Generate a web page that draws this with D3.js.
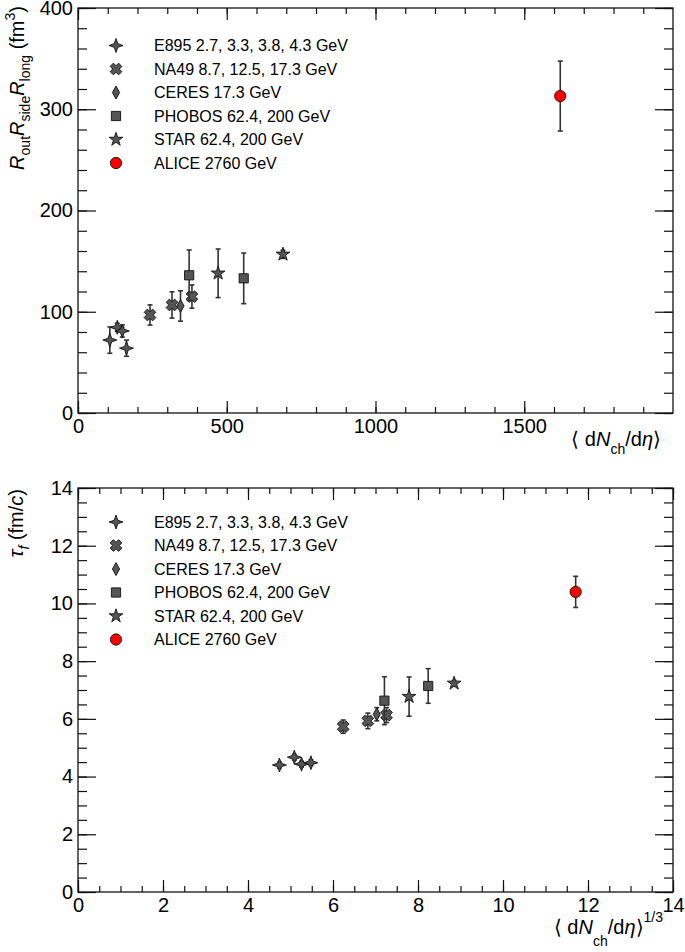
<!DOCTYPE html>
<html><head><meta charset="utf-8">
<script src="https://cdn.jsdelivr.net/npm/d3@7"></script>
<style>body{margin:0;background:#fff}svg{display:block;font-family:"Liberation Sans",Arial,Helvetica,sans-serif}</style>
</head><body><svg id="c" width="685" height="952"></svg>
<script>
// ---------- data ----------
const legendLabels = ["E895 2.7, 3.3, 3.8, 4.3 GeV","NA49 8.7, 12.5, 17.3 GeV","CERES 17.3 GeV","PHOBOS 62.4, 200 GeV","STAR 62.4, 200 GeV","ALICE 2760 GeV"];
const markerShapes = ["fourStar","xCross","diamond","square","star","circle"];

const e895Mult = [107, 132, 149, 163];
const e895Volume = [72, 84.6, 81, 64];
const e895VolumeErr = [13, 4, 6, 8];
const e895MultCbrt = [4.74, 5.09, 5.26, 5.48];
const e895Tau = [4.40, 4.67, 4.43, 4.48];
const e895TauErr = [0.1, 0.1, 0.1, 0.1];

const na49Mult = [242, 316, 383];
const na49Volume = [96.8, 106.7, 115];
const na49VolumeErr = [10, 13, 11.5];
const na49MultCbrt = [6.24, 6.82, 7.26];
const na49Tau = [5.73, 5.93, 6.13];
const na49TauErr = [0.23, 0.27, 0.26];

const ceresMult = [344.5];
const ceresVolume = [105.7];
const ceresVolumeErr = [15];
const ceresMultCbrt = [7.03];
const ceresTau = [6.16];
const ceresTauErr = [0.23];

const phobosMult = [373.6, 557];
const phobosVolume = [136, 133];
const phobosVolumeErr = [25, 25];
const phobosMultCbrt = [7.21, 8.24];
const phobosTau = [6.63, 7.14];
const phobosTauErr = [0.83, 0.6];

const starMult = [471, 689];
const starVolume = [138, 156.7];
const starVolumeErr = [24, 4];
const starMultCbrt = [7.79, 8.85];
const starTau = [6.77, 7.23];
const starTauErr = [0.68, 0.1];

const aliceMult = [1621];
const aliceVolume = [313];
const aliceVolumeErr = [34.5];
const aliceMultCbrt = [11.71];
const aliceTau = [10.40];
const aliceTauErr = [0.54];

const topXTicks = [0, 500, 1000, 1500];
const topXMinor = [0,100,200,300,400,500,600,700,800,900,1000,1100,1200,1300,1400,1500,1600,1700,1800,1900];
const topYTicks = [0, 100, 200, 300, 400];
const topYMinor = [0,20,40,60,80,100,120,140,160,180,200,220,240,260,280,300,320,340,360,380,400];
const botXTicks = [0, 2, 4, 6, 8, 10, 12, 14];
const botXMinor = [0,0.5,1,1.5,2,2.5,3,3.5,4,4.5,5,5.5,6,6.5,7,7.5,8,8.5,9,9.5,10,10.5,11,11.5,12,12.5,13,13.5,14];
const botYTicks = [0, 2, 4, 6, 8, 10, 12, 14];
const botYMinor = botXMinor;

const series = [
  {x1: e895Mult, v: e895Volume, ve: e895VolumeErr, x2: e895MultCbrt, t: e895Tau, te: e895TauErr},
  {x1: na49Mult, v: na49Volume, ve: na49VolumeErr, x2: na49MultCbrt, t: na49Tau, te: na49TauErr},
  {x1: ceresMult, v: ceresVolume, ve: ceresVolumeErr, x2: ceresMultCbrt, t: ceresTau, te: ceresTauErr},
  {x1: phobosMult, v: phobosVolume, ve: phobosVolumeErr, x2: phobosMultCbrt, t: phobosTau, te: phobosTauErr},
  {x1: starMult, v: starVolume, ve: starVolumeErr, x2: starMultCbrt, t: starTau, te: starTauErr},
  {x1: aliceMult, v: aliceVolume, ve: aliceVolumeErr, x2: aliceMultCbrt, t: aliceTau, te: aliceTauErr}
];

// ---------- drawing ----------
const svg = d3.select("#c");
const L = 78, R = 673;

function markerPath(shape){
  if (shape === "fourStar") {
    const o = 7, i = 1.8;
    return `M0,${-o}L${i},${-i}L${o},0L${i},${i}L0,${o}L${-i},${i}L${-o},0L${-i},${-i}Z`;
  }
  if (shape === "xCross") {
    const r = 6, a = 2.3;
    const pts = [[-a,-r],[a,-r],[a,-a],[r,-a],[r,a],[a,a],[a,r],[-a,r],[-a,a],[-r,a],[-r,-a],[-a,-a]];
    const c = Math.SQRT1_2;
    return "M" + pts.map(([x,y]) => [(x - y) * c, (x + y) * c].map(v => v.toFixed(2)).join(",")).join("L") + "Z";
  }
  if (shape === "diamond") return "M0,-6.5L3.6,0L0,6.5L-3.6,0Z";
  if (shape === "square") return "M-4.6,-4.6H4.6V4.6H-4.6Z";
  if (shape === "star") return d3.symbol(d3.symbolStar, 58)();
  return d3.symbol(d3.symbolCircle, 100)();
}
function markerFill(shape){ return shape === "circle" ? "#ff0000" : "#555"; }

function richText(g, parts, size){
  const t = g.append("text").attr("font-size", size);
  let prev = 0;
  parts.forEach(p => {
    const shift = p.shift || 0;
    const ts = t.append("tspan").text(p.t).attr("dy", shift - prev);
    if (p.it) ts.attr("font-style", "italic");
    if (p.fs) ts.attr("font-size", p.fs);
    prev = shift;
  });
  return t;
}

function panel(cfg){
  const x = d3.scaleLinear().domain(cfg.xDomain).range([L, R]);
  const y = d3.scaleLinear().domain(cfg.yDomain).range([cfg.bottom, cfg.top]);
  const g = svg.append("g");

  const fixAxis = a => { a.select(".domain").remove(); a.selectAll("line").attr("stroke", "#111").attr("stroke-width", 1.2); a.attr("font-family", null); };

  const xb = g.append("g").attr("transform", `translate(0,${cfg.bottom})`)
    .call(d3.axisBottom(x).tickValues(cfg.xTicks).tickSize(-12).tickPadding(6).tickFormat(d3.format("d")));
  fixAxis(xb); xb.selectAll("text").attr("font-size", 20).attr("fill", "#000");
  const xbm = g.append("g").attr("transform", `translate(0,${cfg.bottom})`)
    .call(d3.axisBottom(x).tickValues(cfg.xMinor).tickSize(-6).tickFormat(""));
  fixAxis(xbm);
  const xt = g.append("g").attr("transform", `translate(0,${cfg.top})`)
    .call(d3.axisTop(x).tickValues(cfg.xTicks).tickSize(-12).tickFormat(""));
  fixAxis(xt);
  const xtm = g.append("g").attr("transform", `translate(0,${cfg.top})`)
    .call(d3.axisTop(x).tickValues(cfg.xMinor).tickSize(-6).tickFormat(""));
  fixAxis(xtm);

  const yl = g.append("g").attr("transform", `translate(${L},0)`)
    .call(d3.axisLeft(y).tickValues(cfg.yTicks).tickSize(-18).tickPadding(5).tickFormat(d3.format("d")));
  fixAxis(yl); yl.selectAll("text").attr("font-size", 20).attr("fill", "#000");
  const ylm = g.append("g").attr("transform", `translate(${L},0)`)
    .call(d3.axisLeft(y).tickValues(cfg.yMinor).tickSize(-9).tickFormat(""));
  fixAxis(ylm);
  const yr = g.append("g").attr("transform", `translate(${R},0)`)
    .call(d3.axisRight(y).tickValues(cfg.yTicks).tickSize(-18).tickFormat(""));
  fixAxis(yr);
  const yrm = g.append("g").attr("transform", `translate(${R},0)`)
    .call(d3.axisRight(y).tickValues(cfg.yMinor).tickSize(-9).tickFormat(""));
  fixAxis(yrm);

  g.append("rect").attr("x", L).attr("y", cfg.top).attr("width", R - L).attr("height", cfg.bottom - cfg.top)
    .attr("fill", "none").attr("stroke", "#111").attr("stroke-width", 1.3);

  series.forEach((s, si) => {
    const shape = markerShapes[si];
    const xs = s[cfg.xKey], ys = s[cfg.yKey], es = s[cfg.eKey];
    const pts = xs.map((xv, i) => ({x: xv, y: ys[i], e: es[i]}));
    const eg = g.append("g").attr("stroke", "#333").attr("stroke-width", 1.6);
    pts.forEach(p => {
      const cx = x(p.x), y0 = y(p.y - p.e), y1 = y(p.y + p.e);
      eg.append("line").attr("x1", cx).attr("x2", cx).attr("y1", y0).attr("y2", y1);
      eg.append("line").attr("x1", cx - 2.5).attr("x2", cx + 2.5).attr("y1", y0).attr("y2", y0);
      eg.append("line").attr("x1", cx - 2.5).attr("x2", cx + 2.5).attr("y1", y1).attr("y2", y1);
    });
    g.append("g").selectAll("path").data(pts).join("path")
      .attr("d", markerPath(shape))
      .attr("transform", d => `translate(${x(d.x)},${y(d.y)})`)
      .attr("fill", markerFill(shape)).attr("stroke", "#111").attr("stroke-width", 0.9);
  });

  legendLabels.forEach((lab, i) => {
    const ly = cfg.legendTop + i * 23.5;
    g.append("path").attr("d", markerPath(markerShapes[i])).attr("transform", `translate(116,${ly})`)
      .attr("fill", markerFill(markerShapes[i])).attr("stroke", "#111").attr("stroke-width", 0.9);
    g.append("text").attr("x", 154).attr("y", ly + 5.5).attr("font-size", 16).text(lab);
  });

  const xtg = g.append("g").attr("transform", `translate(${cfg.xTitleX},${cfg.xTitleY})`);
  richText(xtg, cfg.xTitle, 20).attr("text-anchor", "end");
  const ytg = g.append("g").attr("transform", `translate(${cfg.yTitleX},${cfg.yTitleY}) rotate(-90)`);
  richText(ytg, cfg.yTitle, 20).attr("text-anchor", "end");
}

panel({
  top: 8, bottom: 413, xDomain: [0, 2000], yDomain: [0, 400],
  xTicks: topXTicks, xMinor: topXMinor, yTicks: topYTicks, yMinor: topYMinor,
  xKey: "x1", yKey: "v", eKey: "ve", legendTop: 45.5,
  xTitleX: 661, xTitleY: 446,
  xTitle: [{t:"⟨ d"},{t:"N", it:true},{t:"ch", shift:8, fs:14},{t:"/d"},{t:"η", it:true},{t:"⟩"}],
  yTitleX: 24, yTitleY: 6,
  yTitle: [{t:"R", it:true},{t:"out", shift:6, fs:14},{t:"R", it:true},{t:"side", shift:6, fs:14},{t:"R", it:true},{t:"long", shift:6, fs:14},{t:"  (fm"},{t:"3", shift:-9, fs:14},{t:")"}]
});
panel({
  top: 488, bottom: 892, xDomain: [0, 14], yDomain: [0, 14],
  xTicks: botXTicks, xMinor: botXMinor, yTicks: botYTicks, yMinor: botYMinor,
  xKey: "x2", yKey: "t", eKey: "te", legendTop: 522,
  xTitleX: 663, xTitleY: 934,
  xTitle: [{t:"⟨ d"},{t:"N", it:true},{t:"ch", shift:12, fs:14},{t:"/d"},{t:"η", it:true},{t:"⟩"},{t:"1/3", shift:-12, fs:14}],
  yTitleX: 23, yTitleY: 489,
  yTitle: [{t:"τ", it:true, fs:21},{t:"f", it:true, shift:6, fs:14},{t:"   (fm/"},{t:"c", it:true},{t:")"}]
});
</script></body></html>
